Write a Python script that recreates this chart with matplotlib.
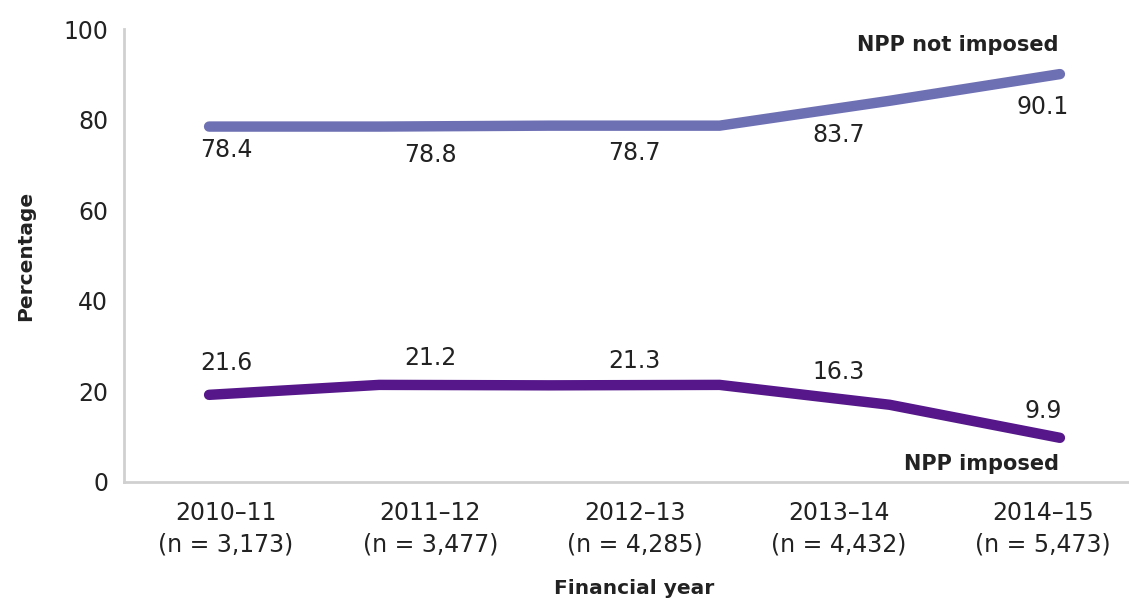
import matplotlib
matplotlib.use("Agg")
import matplotlib.pyplot as plt

# ---- data ----
categories = ["2010–11", "2011–12", "2012–13", "2013–14", "2014–15"]
n_counts = ["3,173", "3,477", "4,285", "4,432", "5,473"]
not_imposed_labels = [78.4, 78.8, 78.7, 83.7, 90.1]
imposed_labels = [21.6, 21.2, 21.3, 16.3, 9.9]
# line vertices as drawn in the picture (6 evenly spaced points)
not_imposed_line = [78.5, 78.5, 78.7, 78.7, 84.2, 90.1]
imposed_line = [19.2, 21.4, 21.3, 21.4, 17.0, 9.7]
series_names = ["NPP not imposed", "NPP imposed"]

# label placement offsets (points) as in the picture
top_offsets = [-16.3, -21.2, -19.4, -22.8, -23.5]
bot_offsets = [15, 20, 17.5, 26, 19]

plt.rcParams["font.family"] = ["DejaVu Sans"]
TXT = "#222222"
COL_TOP = "#6E70B4"
COL_BOT = "#55178A"
AXC = "#D0D0D0"
FS = 17

W, H = 1129, 601
fig = plt.figure(figsize=(W / 100, H / 100), dpi=100)
left, right = 124, 1145
top, bottom = 29.3, 481.7
ax = fig.add_axes([left / W, (H - bottom) / H, (right - left) / W, (bottom - top) / H])
ax.set_xlim(-0.5, len(categories) - 0.5)
ax.set_ylim(0, 100)

for s in ["top", "right"]:
    ax.spines[s].set_visible(False)
for s in ["left", "bottom"]:
    ax.spines[s].set_color(AXC)
    ax.spines[s].set_linewidth(2)
    ax.spines[s].set_clip_on(False)

ax.set_yticks(range(0, 101, 20))
ax.tick_params(axis="y", length=0, pad=11.5, labelsize=FS, labelcolor=TXT)
ax.set_xticks(range(len(categories)))
ax.set_xticklabels([f"{c}\n(n = {n})" for c, n in zip(categories, n_counts)],
                   linespacing=1.4)
ax.tick_params(axis="x", length=0, pad=14, labelsize=FS, labelcolor=TXT)

fig.text(26 / W, 1 - (top + bottom) / 2 / H, "Percentage", rotation=90,
         ha="center", va="center", fontsize=14.5, fontweight="bold", color=TXT)
fig.text((left + right) / 2 / W, 1 - 588 / H, "Financial year",
         ha="center", va="center", fontsize=14.5, fontweight="bold", color=TXT)

# overlaid line axis (6 evenly spaced points)
ax2 = ax.twiny()
ax2.set_xlim(-0.5, len(not_imposed_line) - 0.5)
ax2.set_ylim(0, 100)
ax2.axis("off")
xs = list(range(len(not_imposed_line)))
ax2.plot(xs, not_imposed_line, color=COL_TOP, lw=7.5, solid_capstyle="round",
         solid_joinstyle="round", clip_on=False)
ax2.plot(xs, imposed_line, color=COL_BOT, lw=7.5, solid_capstyle="round",
         solid_joinstyle="round", clip_on=False)

# data labels
for i, (v, o) in enumerate(zip(not_imposed_labels, top_offsets)):
    ax.annotate(f"{v:.1f}", (i, v), xytext=(0, o), textcoords="offset points",
                ha="center", va="center", fontsize=FS, color=TXT)
for i, (v, o) in enumerate(zip(imposed_labels, bot_offsets)):
    ax.annotate(f"{v:.1f}", (i, v), xytext=(0, o), textcoords="offset points",
                ha="center", va="center", fontsize=FS, color=TXT)

# series names
ax2.annotate(series_names[0], (xs[-1], not_imposed_line[-1]), xytext=(-1, 21),
             textcoords="offset points", ha="right", va="center",
             fontsize=15, fontweight="bold", color=TXT)
ax2.annotate(series_names[1], (xs[-1], imposed_line[-1]), xytext=(-1, -19),
             textcoords="offset points", ha="right", va="center",
             fontsize=15, fontweight="bold", color=TXT)

fig.savefig("out.png", dpi=100)
